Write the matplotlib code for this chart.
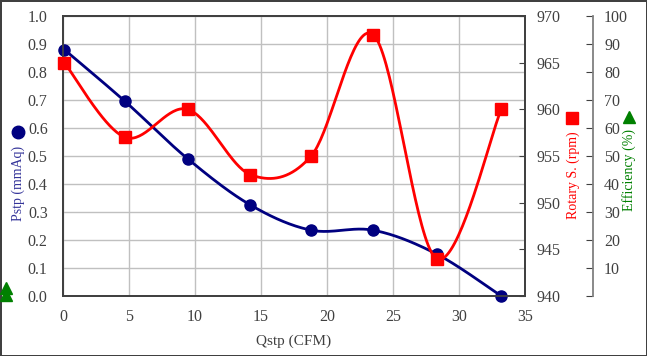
import numpy as np
import matplotlib
matplotlib.use('Agg')
import matplotlib.pyplot as plt
from matplotlib.lines import Line2D

plt.rcParams['font.family'] = ['Liberation Serif', 'DejaVu Serif']

# values
qstp = [0.1, 4.7, 9.45, 14.2, 18.8, 23.5, 28.3, 33.2]
pstp = [0.88, 0.695, 0.49, 0.325, 0.235, 0.235, 0.15, 0.0]
rotary = [965, 957, 960, 953, 955, 968, 944, 960]

x_ticks = [0, 5, 10, 15, 20, 25, 30, 35]
p_ticks = [0.0, 0.1, 0.2, 0.3, 0.4, 0.5, 0.6, 0.7, 0.8, 0.9, 1.0]
r_ticks = [940, 945, 950, 955, 960, 965, 970]
e_ticks = [0, 10, 20, 30, 40, 50, 60, 70, 80, 90, 100]

W, H = 647, 356
TICK_COL = '#404040'


def smooth(x, y, n=40):
    # excel-like smoothed line (bezier through points, catmull-rom tangents)
    pts = np.column_stack([x, y]).astype(float)
    pad = np.vstack([pts[0], pts, pts[-1]])
    out = []
    for i in range(len(pts) - 1):
        p0, p3 = pts[i], pts[i + 1]
        c1 = p0 + (pad[i + 2] - pad[i]) / 6
        c2 = p3 - (pad[i + 3] - pad[i + 1]) / 6
        t = np.linspace(0, 1, n)[:, None]
        out.append((1 - t)**3 * p0 + 3 * (1 - t)**2 * t * c1 + 3 * (1 - t) * t**2 * c2 + t**3 * p3)
    s = np.vstack(out)
    return s[:, 0], s[:, 1]


fig = plt.figure(figsize=(W / 100, H / 100), dpi=100)
fig.patch.set_edgecolor('#404040')
fig.patch.set_linewidth(2)

ax = fig.add_axes([63 / W, 1 - 297 / H, (525 - 63) / W, (297 - 19) / H])
ax.set_xlim(0, 35)
ax.set_ylim(0, 1)
ax.set_xticks(x_ticks)
ax.set_yticks(p_ticks)
ax.set_yticklabels([f'{v:.1f}' for v in p_ticks])
ax.grid(True, color='#c0c0c0', linewidth=1)
ax.set_axisbelow(True)
ax.tick_params(axis='y', length=0, labelsize=11.5, colors=TICK_COL, pad=11)
ax.tick_params(axis='x', length=0, labelsize=11.5, colors=TICK_COL, pad=9.5)
for s in ax.spines.values():
    s.set_color('#404040')
    s.set_linewidth(1.3)
ax.set_xlabel('Qstp (CFM)', fontsize=11, color=TICK_COL, labelpad=7)

sx, sy = smooth(qstp, pstp)
ax.plot(sx, sy, color='#000080', lw=2, zorder=3)
ax.plot(qstp, pstp, 'o', color='#000080', ms=8, zorder=4, clip_on=False)

ax2 = ax.twinx()
ax2.set_ylim(940, 970)
ax2.set_yticks(r_ticks)
ax2.tick_params(direction='in', length=4, labelsize=11.5, colors=TICK_COL, pad=8)
for s in ax2.spines.values():
    s.set_color('#404040')
    s.set_linewidth(1.3)
rx, ry = smooth(qstp, rotary)
ax2.plot(rx, ry, color='#ff0000', lw=2, zorder=3)
ax2.plot(qstp, rotary, 's', color='#ff0000', ms=8.5, zorder=4, clip_on=False)

ax3 = ax.twinx()
ax3.set_ylim(0, 100)
ax3.set_position([63 / W, 1 - 296 / H, (525 - 63) / W, (296 - 16) / H])
ax3.spines['right'].set_position(('axes', (593 - 63) / (525 - 63)))
for k in ['left', 'top', 'bottom']:
    ax3.spines[k].set_visible(False)
ax3.spines['right'].set_color('#808080')
ax3.spines['right'].set_linewidth(1.3)
ax3.set_yticks(e_ticks)
ax3.set_yticklabels([''] + [str(v) for v in e_ticks[1:]])
ax3.tick_params(direction='in', length=5, labelsize=11.5, colors=TICK_COL, pad=8)

# axis titles with their marker symbols
fig.text(18 / W, 1 - 183 / H, 'Pstp (mmAq)', rotation=90, ha='center', va='center',
         fontsize=10, color='#333399')
fig.text(573 / W, 1 - 175 / H, 'Rotary S. (rpm)', rotation=90, ha='center', va='center',
         fontsize=10, color='#ff0000')
fig.text(629 / W, 1 - 170 / H, 'Efficiency (%)', rotation=90, ha='center', va='center',
         fontsize=10, color='#008000')
fig.add_artist(Line2D([18 / W], [1 - 132 / H], marker='o', ms=9, color='#000080',
                      transform=fig.transFigure))
fig.add_artist(Line2D([572 / W], [1 - 118 / H], marker='s', ms=9, color='#ff0000',
                      transform=fig.transFigure))
fig.add_artist(Line2D([629 / W], [1 - 117 / H], marker='^', ms=8, color='#008000',
                      transform=fig.transFigure))
fig.add_artist(Line2D([6 / W, 6 / W], [1 - 288 / H, 1 - 295 / H], marker='^', ms=8,
                      lw=0, color='#008000', transform=fig.transFigure))

fig.savefig('out.png', dpi=100, edgecolor=fig.get_edgecolor())
